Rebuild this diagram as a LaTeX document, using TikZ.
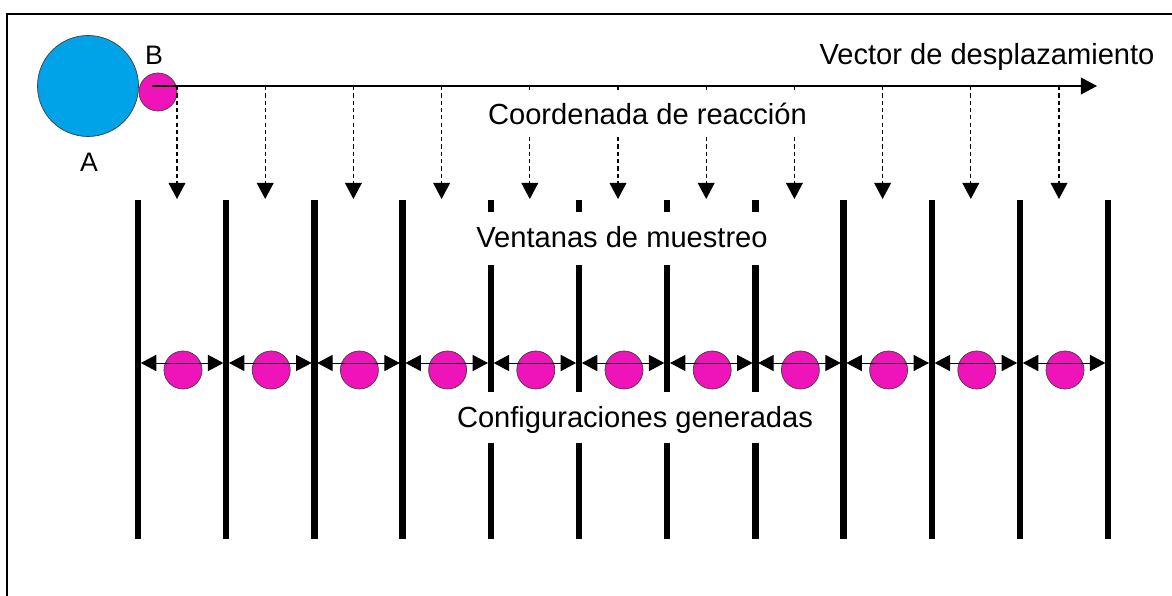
\documentclass[tikz,border=0pt]{standalone}
\usepackage{fontspec}
\setmainfont{Liberation Sans}
\usetikzlibrary{arrows.meta,positioning}
\definecolor{molA}{HTML}{00A2E8}
\definecolor{molB}{HTML}{EE14B9}

\begin{document}
\begin{tikzpicture}[x=0.025cm,y=-0.025cm,
	mol/.style={circle,draw=black!75,line width=0.5pt,inner sep=0pt},
	win/.style={line width=4.6pt},
	tip/.style={-{Triangle[length=11.5pt,width=12pt]}},
	txt/.style={font=\fontsize{20.7}{24}\selectfont,anchor=base,fill=white,inner ysep=0pt,inner xsep=3pt}
	]
	\useasboundingbox (0,0) rectangle (1172,596);
	\draw[line width=1.4pt] (7,596) -- (7,14) -- (1172,14);
	
	\def\d{88.2}
	
	% A and B
	\node[mol,fill=molA,minimum size=2.525cm] (A) at (88,86) {};
	\node[mol,fill=molB,minimum size=0.95cm] (B) at (158,92) {};
	\node[font=\fontsize{19}{22}\selectfont,anchor=base] (lA) at (89,172) {A};
	\node[font=\fontsize{19}{22}\selectfont,anchor=base] (lB) at (154,65) {B};
	
	\coordinate (v0) at (152,86);
	\coordinate (v1) at (1097,86);
	\draw[tip,line width=0.9pt] (v0) -- (v1);
	\node[txt,anchor=base west] (vec) at (815,65) {Vector de desplazamiento};
	
	% reaction coordinate
	\foreach \i in {0,...,10} {
		\coordinate (r\i) at (177+\d*\i,86);
		\coordinate (s\i) at (177+\d*\i,199);
		\draw[tip,line width=0.85pt,dash pattern=on 3pt off 2.2pt] (r\i) -- (s\i);
	}
	
	% windows
	\foreach \i in {0,...,11} {
		\coordinate (w\i) at (138+\d*\i,200);
		\coordinate (wb\i) at (138+\d*\i,539);
		\coordinate (m\i) at (138+\d*\i,363);
		\draw[win] (w\i) -- (wb\i);
	}
	
	% configurations
	\foreach \i [evaluate=\i as \j using int(\i+1)] in {0,...,10} {
		\node[mol,fill=molB,minimum size=0.95cm] (c\i) at (183+\d*\i,370) {};
		\draw[{Triangle[length=11pt,width=11.5pt]}-{Triangle[length=11pt,width=11.5pt]},line width=0.7pt,shorten <=2pt,shorten >=2pt] (m\i) -- (m\j);
	}
	
	\node[txt,text height=0.875cm,text depth=0.3cm] (coord) at (647.5,125) {Coordenada de reacción};
	\node[txt,text height=0.9cm,text depth=0.425cm] (vent) at (622,248) {Ventanas de muestreo};
	\node[txt,text height=0.9cm,text depth=0.375cm] (conf) at (635,428) {Configuraciones generadas};
\end{tikzpicture}
\end{document}
